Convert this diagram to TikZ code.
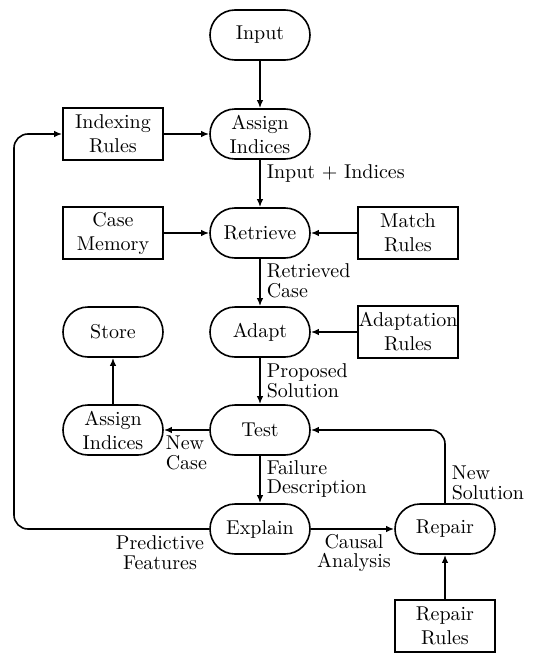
\documentclass[tikz,border=0pt]{standalone}
\usetikzlibrary{arrows.meta}
\tikzset{
    proc/.style={draw,rounded corners=12.5pt,minimum width=50pt,minimum height=25pt,inner sep=0pt,align=center},
    know/.style={draw,minimum width=50pt,minimum height=26pt,inner sep=0pt,align=center},
    lbl/.style={inner sep=0pt,align=left,font=\linespread{0.83}\selectfont},
    flow/.style={-{Latex[length=4pt,width=3.2pt]}},
}
\begin{document}
\begin{tikzpicture}[x=0.5pt,y=-0.5pt,line width=0.8pt]
        \useasboundingbox (0,0) rectangle (538,653);
        \node[proc] (input) at (260,35){Input};
        \node[proc] (assign) at (260,134){Assign\\Indices};
        \node[know] (idxrules) at (113,134){Indexing\\Rules};
        \node[proc] (retrieve) at (260,233){Retrieve};
        \node[know] (casemem) at (113,233){Case\\Memory};
        \node[know] (matchrules) at (408,233){Match\\Rules};
        \node[proc] (adapt) at (260,332){Adapt};
        \node[know] (adaprules) at (408,332){Adaptation\\Rules};
        \node[proc] (store) at (113,332){Store};
        \node[proc] (assignb) at (113,430){Assign\\Indices};
        \node[proc] (test) at (260,430){Test};
        \node[proc] (explain) at (260,529){Explain};
        \node[proc] (repair) at (445,529){Repair};
        \node[know] (repairrules) at (445,626){Repair\\Rules};
        \coordinate (loop) at (14,330);

        \draw[flow] (input) -- (assign);
        \draw[flow] (idxrules) -- (assign);
        \draw[flow] (assign) -- (retrieve);
        \draw[flow] (casemem) -- (retrieve);
        \draw[flow] (matchrules) -- (retrieve);
        \draw[flow] (retrieve) -- (adapt);
        \draw[flow] (adaprules) -- (adapt);
        \draw[flow] (adapt) -- (test);
        \draw[flow] (test) -- (assignb);
        \draw[flow] (assignb) -- (store);
        \draw[flow] (test) -- (explain);
        \draw[flow] (explain) -- (repair);
        \draw[flow] (repairrules) -- (repair);
        \draw[flow,rounded corners=7pt] (repair.north) |- (test.east);
        \draw[flow,rounded corners=7pt] (explain.west) -| (loop) |- (idxrules.west);

        % edge labels
        \node[lbl,anchor=west] (l1) at (266,173){Input + Indices};
        \node[lbl,anchor=west] (l2) at (266,281){Retrieved\\Case};
        \node[lbl,anchor=west] (l3) at (266,381){Proposed\\Solution};
        \node[lbl,anchor=west] (l4) at (165,453){New\\Case};
        \node[lbl,anchor=west] (l5) at (266,479){Failure\\Description};
        \node[lbl,anchor=west] (l6) at (451,483){New\\Solution};
        \node[lbl,align=center] (l7) at (160,553){Predictive\\Features};
        \node[lbl,align=center] (l8) at (354,553){Causal\\Analysis};
    \end{tikzpicture}
\end{document}
